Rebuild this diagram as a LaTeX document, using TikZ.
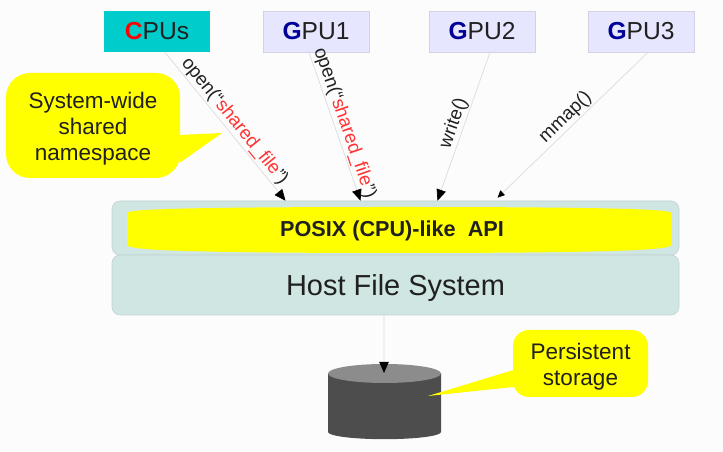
\documentclass[tikz,border=0pt]{standalone}
\usepackage{fontspec}
\setmainfont{Liberation Sans}
\usetikzlibrary{arrows.meta, calc}

\definecolor{pagebg}{HTML}{FCFCFC}
\definecolor{cpufill}{HTML}{00CCCC}
\definecolor{gpufill}{HTML}{E6E6FF}
\definecolor{gpuline}{HTML}{D2D2E2}
\definecolor{fsfill}{HTML}{CFE6E3}
\definecolor{fsline}{HTML}{C2D2D0}
\definecolor{gpuletter}{HTML}{000099}
\definecolor{callred}{HTML}{FF3333}
\definecolor{wireline}{HTML}{DCDCDC}
\definecolor{disktop}{HTML}{8C8C8C}
\definecolor{diskbody}{HTML}{4D4D4D}
\definecolor{noteyellow}{HTML}{FFFF00}
\definecolor{textgray}{HTML}{202020}

\tikzset{
	procbox/.style = {draw = gpuline, fill = gpufill, minimum width = 2.65cm, minimum height = 1.025cm, inner sep = 0pt, text = textgray, font = \fontsize{17.5}{20}\selectfont},
	fsbox/.style = {draw = fsline, fill = fsfill, rounded corners = 0.2cm, minimum width = 14.175cm, inner sep = 0pt},
	callout/.style = {fill = noteyellow, align = center, inner sep = 0pt, text = textgray, font = \fontsize{16}{18.5}\selectfont},
	wire/.style = {draw = wireline, line width = 0.5pt, -{Triangle[black, length = 2.8mm, width = 2.4mm]}},
	calllabel/.style = {sloped, above, inner sep = 1pt, text = textgray, font = \fontsize{13.3}{16}\selectfont}
}

\newcommand{\redtext}[1]{\textcolor{callred}{#1}}
\newcommand{\gpuname}[1]{\textbf{\textcolor{gpuletter}{G}}PU#1}

\begin{document}
\begin{tikzpicture}
\useasboundingbox (0, 0) rectangle (18.075, 11.3);
\fill[pagebg] (0, 0) rectangle (18.075, 11.3);

% top row
\node[procbox, fill = cpufill, draw = none] (cpus) at (3.925, 10.5125) {\textbf{\textcolor{red}{C}}PUs};
\node[procbox] (gpu1) at (7.9, 10.5125) {\gpuname{1}};
\node[procbox] (gpu2) at (12.05, 10.5125) {\gpuname{2}};
\node[procbox] (gpu3) at (16.025, 10.5125) {\gpuname{3}};

% file system layers
\node[fsbox, minimum height = 1.35cm] (api) at (9.8875, 5.6) {};
\node[fsbox, minimum height = 1.5cm, text = textgray, text height = 15.6pt, text depth = 0pt, font = \fontsize{20.6}{24}\selectfont] (host) at (9.8875, 4.175) {Host File System};
\fill[noteyellow]
	(3.175, 5.975) .. controls (3.175, 6.06) and (4.3, 6.125) ..
	(9.975, 6.125) .. controls (15.6, 6.125) and (16.775, 6.06) ..
	(16.775, 5.975) --
	(16.775, 5.175) .. controls (16.775, 5.06) and (15.6, 4.975) ..
	(9.975, 4.975) .. controls (4.3, 4.975) and (3.175, 5.06) ..
	(3.175, 5.175) -- cycle;
\node[font = \fontsize{15.4}{18}\selectfont\bfseries, text = textgray] (posix) at (9.8, 5.53) {POSIX (CPU)-like\ \ API};

% disk
\fill[diskbody] (8.2, 1.9625) -- (8.2, 0.5) arc[start angle = 180, end angle = 360, x radius = 1.4125, y radius = 0.18] -- (11.025, 1.9625) -- cycle;
\fill[disktop] (9.6125, 1.9625) ellipse (1.4125 and 0.2375);
\coordinate (disk) at (9.6, 1.975);

% callouts
\node[callout, rounded corners = 0.6cm, minimum width = 4.35cm, minimum height = 2.625cm] (namespace) at (2.325, 8.1625) {\rule{0pt}{1em}System-wide\\shared\\namespace};
\fill[noteyellow] ([xshift = -0.02cm, yshift = -0.2375cm]namespace.east) -- (5.55, 7.975) -- ([xshift = -0.02cm, yshift = -0.9375cm]namespace.east) -- cycle;
\node[callout, rounded corners = 0.4cm, minimum width = 3.375cm, minimum height = 1.675cm] (storage) at (14.5125, 2.2125) {\rule{0pt}{1em}Persistent\\storage};
\fill[noteyellow] ([xshift = 0.02cm, yshift = -0.1625cm]storage.west) -- (10.7, 1.4) -- ([xshift = 0.02cm, yshift = -0.5875cm]storage.west) -- cycle;

% connectors
\draw[wire] ([xshift = 0.2cm]cpus.south) -- ([xshift = -2.75cm]api.north) node[calllabel, pos = 0.51] {open(“\redtext{shared\_file}”)};
\draw[wire] ([xshift = -0.175cm]gpu1.south) -- ([xshift = -0.875cm]api.north) node[calllabel, pos = 0.5] {open(“\redtext{shared\_file}”)};
\draw[wire] ([xshift = 0.2cm]gpu2.south) -- ([xshift = 1.05cm]api.north) node[calllabel, pos = 0.5] {write()};
\draw[wire, -{Triangle[black, length = 1.8mm, width = 1.6mm]}] ([xshift = 0.175cm]gpu3.south) -- ([xshift = 2.55cm, yshift = 0.075cm]api.north) node[calllabel, pos = 0.5] {mmap()};
\draw[wire] ([xshift = -0.2875cm]host.south) -- (disk);
\end{tikzpicture}
\end{document}
